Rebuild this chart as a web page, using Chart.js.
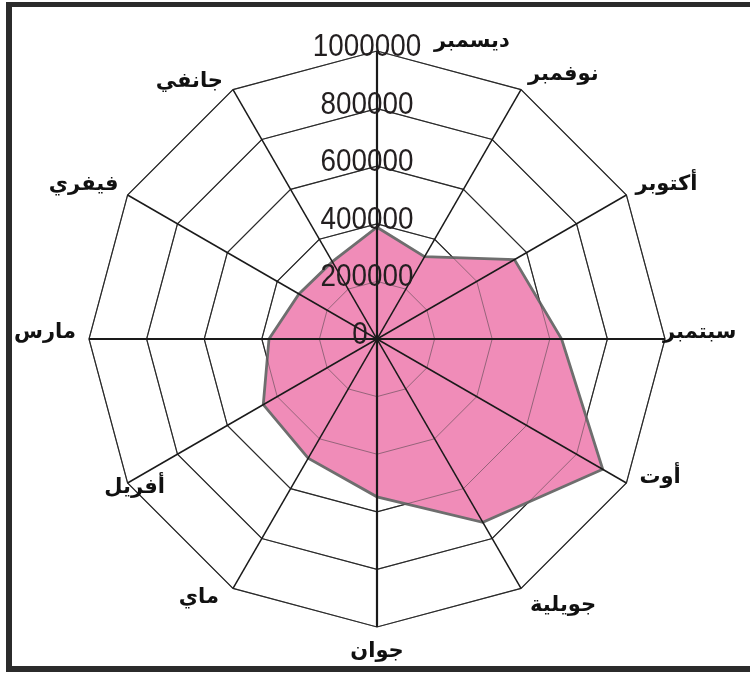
<!DOCTYPE html>
<html>
<head>
<meta charset="utf-8">
<title>Radar</title>
<script src="https://cdn.jsdelivr.net/npm/chart.js@4.4.1/dist/chart.umd.min.js"></script>
<style>
    html, body { margin: 0; padding: 0; background: #fff; }
    #wrap { position: relative; width: 750px; height: 673px; overflow: hidden; }
    #frame {
        position: absolute; left: 6px; top: 2px; width: 760px; height: 659px;
        border-top: 5px solid #2b2b2b;
        border-left: 6px solid #2b2b2b;
        border-bottom: 6px solid #2b2b2b;
        pointer-events: none;
    }
    canvas { position: absolute; left: 0; top: 0; }
</style>
</head>
<body>
<div id="wrap">
    <canvas id="radarChart" width="750" height="673"></canvas>
    <div id="frame"></div>
</div>
<script>
// ========== DATA ==========
// months in drawing order (clockwise from the top)
const months = ['ديسمبر', 'نوفمبر', 'أكتوبر', 'سبتمبر', 'أوت', 'جويلية',
                'جوان', 'ماي', 'أفريل', 'مارس', 'فيفري', 'جانفي'];
const values = [388000, 330000, 551000, 641000, 905000, 735000,
                548000, 478000, 456000, 375000, 313000, 310000];
const tickValues = [0, 200000, 400000, 600000, 800000, 1000000];
// ==========================

// where each month name sits relative to its outer vertex
const labelPlace = [
    { align: 'left',   dx: 57,  dy: -9 },
    { align: 'left',   dx: 7,   dy: -15 },
    { align: 'left',   dx: 9,   dy: -10 },
    { align: 'left',   dx: -2,  dy: -6 },
    { align: 'left',   dx: 13,  dy: -5 },
    { align: 'left',   dx: 9,   dy: 17 },
    { align: 'center', dx: 0,   dy: 25 },
    { align: 'right',  dx: -14, dy: 9 },
    { align: 'center', dx: 7,   dy: 5 },
    { align: 'right',  dx: -13, dy: -6 },
    { align: 'right',  dx: -9,  dy: -10 },
    { align: 'right',  dx: -10, dy: -8 }
];

// rings seen through the fill, spokes, tick and month labels on top of the area
const overlayPlugin = {
    id: 'overlay',
    afterDatasetsDraw(chart) {
        const scale = chart.scales.r;
        const ctx = chart.ctx;
        const n = months.length;
        const cx = scale.xCenter;
        const cy = scale.yCenter;

        ctx.save();

        // inner rings, greyed over the pink area
        ctx.strokeStyle = 'rgba(60, 60, 60, 0.5)';
        ctx.lineWidth = 1;
        tickValues.slice(1).forEach(v => {
            ctx.beginPath();
            for (let i = 0; i < n; i++) {
                const p = scale.getPointPositionForValue(i, v);
                if (i === 0) ctx.moveTo(p.x, p.y); else ctx.lineTo(p.x, p.y);
            }
            ctx.closePath();
            ctx.stroke();
        });

        // spokes
        ctx.strokeStyle = '#1a1a1a';
        for (let i = 0; i < n; i++) {
            const p = scale.getPointPositionForValue(i, scale.max);
            ctx.lineWidth = (i % 3 === 0) ? 2.2 : 1.5;
            ctx.beginPath();
            ctx.moveTo(cx, cy);
            ctx.lineTo(p.x, p.y);
            ctx.stroke();
        }

        // tick labels
        ctx.fillStyle = '#231f20';
        ctx.font = '32px "Liberation Sans", Arial, sans-serif';
        ctx.textAlign = 'center';
        ctx.textBaseline = 'alphabetic';
        tickValues.forEach(v => {
            const d = scale.getDistanceFromCenterForValue(v);
            ctx.save();
            ctx.translate(cx - (v === 0 ? 17 : 10), cy - d + 5);
            ctx.scale(0.87, 1);
            ctx.fillText(String(v), 0, 0);
            ctx.restore();
        });

        // month labels
        ctx.fillStyle = '#111';
        ctx.font = 'bold 21px "DejaVu Sans", sans-serif';
        ctx.textBaseline = 'middle';
        for (let i = 0; i < n; i++) {
            const p = scale.getPointPositionForValue(i, scale.max);
            const place = labelPlace[i];
            ctx.textAlign = place.align;
            ctx.fillText(months[i], p.x + place.dx, p.y + place.dy);
        }

        ctx.restore();
    }
};

const ctx = document.getElementById('radarChart').getContext('2d');

new Chart(ctx, {
    type: 'radar',
    data: {
        labels: months,
        datasets: [{
            data: values,
            backgroundColor: '#F08CB8',
            borderColor: '#6e6e6e',
            borderWidth: 2.8,
            pointRadius: 0,
            pointHoverRadius: 0,
            fill: true,
            tension: 0
        }]
    },
    options: {
        responsive: false,
        animation: false,
        layout: {
            padding: { left: 89, right: 85, top: 51, bottom: 46 }
        },
        plugins: {
            legend: { display: false },
            tooltip: { enabled: false }
        },
        scales: {
            r: {
                min: 0,
                max: 1000000,
                beginAtZero: true,
                ticks: {
                    display: false,
                    stepSize: 200000
                },
                grid: {
                    color: '#1a1a1a',
                    lineWidth: 1.2
                },
                angleLines: { display: false },
                pointLabels: { display: false }
            }
        }
    },
    plugins: [overlayPlugin]
});
</script>
</body>
</html>
